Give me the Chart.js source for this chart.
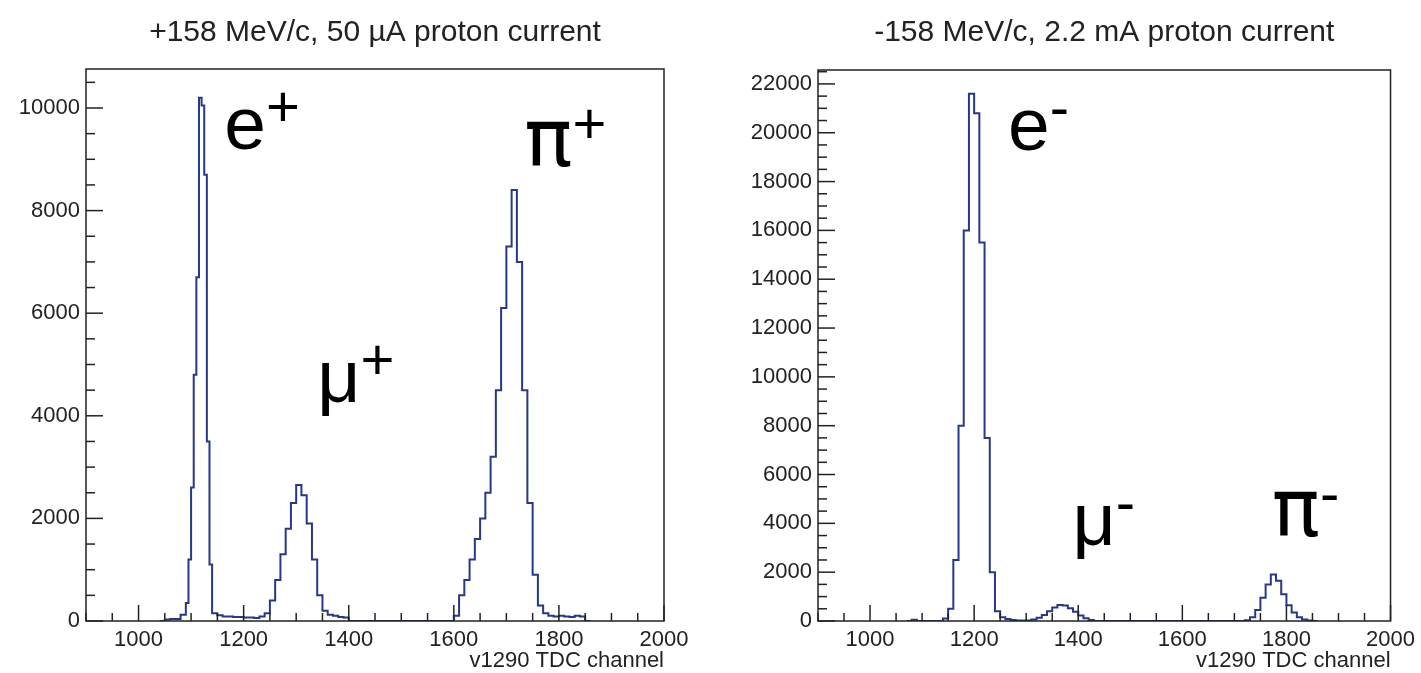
<!DOCTYPE html>
<html>
<head>
<meta charset="utf-8">
<title>v1290 TDC spectra</title>
<script src="https://cdn.jsdelivr.net/npm/chart.js@4.4.1/dist/chart.umd.min.js"></script>
<style>
  body { margin: 0; background: #fff; }
  #wrap { position: relative; width: 1421px; height: 673px; overflow: hidden; }
  #wrap canvas { position: absolute; top: 0; }
</style>
</head>
<body>
<div id="wrap">
  <canvas id="posCanvas" width="710" height="673" style="left:0px"></canvas>
  <canvas id="negCanvas" width="711" height="673" style="left:710px"></canvas>
</div>
<script>
// ---- data (bin start channel -> counts) ----
var posBins = [1040, 1050, 1060, 1070, 1080, 1090, 1095, 1100, 1105, 1110, 1115, 1120, 1125, 1130, 1135,
  1140, 1150, 1160, 1170, 1180, 1190, 1200, 1210, 1220, 1230, 1240, 1250, 1260, 1270, 1280, 1290,
  1300, 1310, 1320, 1330, 1340, 1350, 1360, 1370, 1380, 1390, 1400,
  1600, 1610, 1620, 1630, 1640, 1650, 1660, 1670, 1680, 1690, 1700, 1710, 1720, 1730, 1740, 1750,
  1760, 1770, 1780, 1790, 1800, 1810, 1820, 1830, 1840, 1850];
var posCounts = [0, 30, 40, 40, 120, 350, 1200, 2600, 4800, 6700, 10200, 10050, 8700, 3500, 1100,
  150, 110, 90, 90, 80, 80, 70, 70, 60, 90, 150, 400, 800, 1300, 1800, 2300,
  2650, 2450, 1900, 1200, 500, 200, 120, 100, 80, 70, 0,
  100, 500, 800, 1200, 1600, 2000, 2500, 3200, 4500, 6100, 7300, 8400, 7000, 4500, 2300, 900,
  300, 150, 100, 90, 100, 90, 80, 100, 90, 0];

var negBins = [1070, 1080, 1090, 1140, 1150, 1160, 1170, 1180, 1190, 1200, 1210, 1220, 1230, 1240,
  1250, 1260, 1270, 1280, 1290, 1300, 1310, 1320, 1330, 1340, 1350, 1360, 1370, 1380, 1390, 1400,
  1410, 1420, 1430, 1720, 1730, 1740, 1750, 1760, 1770, 1780, 1790, 1800, 1810, 1820, 1830, 1840, 1850];
var negCounts = [0, 50, 0, 100, 500, 2500, 8000, 16000, 21600, 20800, 15500, 7500, 2000, 400,
  150, 80, 40, 20, 20, 20, 60, 130, 250, 400, 550, 660, 640, 520, 380, 230,
  110, 40, 0, 30, 150, 450, 950, 1500, 1900, 1650, 1100, 650, 350, 150, 60, 20, 0];

// tick labels
var xTickLabels = [1000, 1200, 1400, 1600, 1800, 2000];
var posYTickLabels = [0, 2000, 4000, 6000, 8000, 10000];
var negYTickLabels = [0, 2000, 4000, 6000, 8000, 10000, 12000, 14000, 16000, 18000, 20000, 22000];

// particle labels (text, superscript, channel, counts)
var posLabels = ['e', '\u03bc', '\u03c0'];
var posSigns = ['+', '+', '+'];
var posLabelCh = [1163, 1340, 1734];
var posLabelCount = [9200, 4270, 8870];

var negLabels = ['e', '\u03bc', '\u03c0'];
var negSigns = ['-', '-', '-'];
var negLabelCh = [1265, 1389, 1772];
var negLabelCount = [19300, 3110, 3480];

var posTitle = '+158 MeV/c, 50 \u00b5A proton current';
var negTitle = '-158 MeV/c, 2.2 mA proton current';
var xTitle = 'v1290 TDC channel';

var FONT = '"Liberation Sans", Arial, Helvetica, sans-serif';
var PI_FONT = '"DejaVu Sans", "Liberation Sans", sans-serif';
var INK = '#222';

// histogram outline: each bin gives two points (left edge, right edge)
function stepPoints(bins, counts) {
  var pts = [];
  for (var i = 0; i < bins.length; i++) {
    var end = (i + 1 < bins.length) ? bins[i + 1] : bins[i] + 10;
    pts.push({x: bins[i], y: counts[i]});
    pts.push({x: end, y: counts[i]});
  }
  return pts;
}

function rootStyle(p) {
  return {
    id: 'rootStyle',
    afterDraw: function(chart) {
      var ctx = chart.ctx, a = chart.chartArea;
      var xs = chart.scales.x, ys = chart.scales.y;
      ctx.save();
      ctx.strokeStyle = INK;
      ctx.lineWidth = 1.5;
      // inward ticks on x
      for (var v = 900; v <= 2000; v += 50) {
        var px = xs.getPixelForValue(v);
        var len = (v % 200 === 0) ? 16 : 8;
        ctx.beginPath();
        ctx.moveTo(px, a.bottom);
        ctx.lineTo(px, a.bottom - len);
        ctx.stroke();
      }
      // inward ticks on y
      for (v = 0; v <= ys.max; v += 500) {
        var py = ys.getPixelForValue(v);
        var ylen = (v % 2000 === 0) ? 17 : 9;
        ctx.beginPath();
        ctx.moveTo(a.left, py);
        ctx.lineTo(a.left + ylen, py);
        ctx.stroke();
      }
      ctx.strokeRect(a.left, a.top, a.right - a.left, a.bottom - a.top);

      // titles
      ctx.fillStyle = INK;
      ctx.font = '30px ' + FONT;
      ctx.textAlign = 'center';
      ctx.textBaseline = 'middle';
      ctx.fillText(p.title, (a.left + a.right) / 2, 33);
      ctx.font = '22px ' + FONT;
      ctx.textAlign = 'right';
      ctx.fillText(xTitle, a.right, 661);

      // particle labels
      ctx.fillStyle = '#000';
      for (var i = 0; i < p.labels.length; i++) {
        var lx = xs.getPixelForValue(p.labelCh[i]);
        var ly = ys.getPixelForValue(p.labelCount[i]);
        var isPi = p.labels[i] === '\u03c0';
        ctx.font = (isPi ? '80px ' + PI_FONT : '75px ' + FONT);
        ctx.textAlign = 'left';
        ctx.textBaseline = 'alphabetic';
        ctx.fillText(p.labels[i], lx, ly);
        var w = ctx.measureText(p.labels[i]).width;
        ctx.font = '58px ' + FONT;
        ctx.textBaseline = 'middle';
        ctx.fillText(p.signs[i], lx + w, ly - 39);
      }
      ctx.restore();
    }
  };
}

function makePanel(canvasId, p) {
  return new Chart(document.getElementById(canvasId), {
    type: 'line',
    data: {
      datasets: [{
        data: stepPoints(p.bins, p.counts),
        borderColor: '#27378a',
        borderWidth: 2,
        pointRadius: 0,
        tension: 0,
        fill: false
      }]
    },
    options: {
      responsive: false,
      animation: false,
      layout: { padding: p.padding },
      plugins: { legend: { display: false }, tooltip: { enabled: false }, title: { display: false } },
      scales: {
        x: {
          type: 'linear',
          min: 900,
          max: 2000,
          grid: { display: false, drawTicks: false },
          border: { display: false },
          afterBuildTicks: function(axis) {
            axis.ticks = xTickLabels.map(function(v) { return {value: v}; });
          },
          afterFit: function(axis) { axis.height = 40; },
          ticks: {
            autoSkip: false,
            maxRotation: 0,
            padding: 6,
            color: INK,
            font: { family: FONT, size: 22 },
            callback: function(v) { return String(v); }
          }
        },
        y: {
          type: 'linear',
          min: 0,
          max: p.ymax,
          grid: { display: false, drawTicks: false },
          border: { display: false },
          afterBuildTicks: function(axis) {
            axis.ticks = p.yTicks.map(function(v) { return {value: v}; });
          },
          afterFit: function(axis) { axis.width = 80; },
          ticks: {
            autoSkip: false,
            padding: 6,
            color: INK,
            font: { family: FONT, size: 22 },
            callback: function(v) { return String(v); }
          }
        }
      }
    },
    plugins: [rootStyle(p)]
  });
}

makePanel('posCanvas', {
  bins: posBins, counts: posCounts, ymax: 10760, yTicks: posYTickLabels,
  title: posTitle, labels: posLabels, signs: posSigns, labelCh: posLabelCh, labelCount: posLabelCount,
  padding: { left: 6, right: 46, top: 69, bottom: 12 }
});
makePanel('negCanvas', {
  bins: negBins, counts: negCounts, ymax: 22570, yTicks: negYTickLabels,
  title: negTitle, labels: negLabels, signs: negSigns, labelCh: negLabelCh, labelCount: negLabelCount,
  padding: { left: 28, right: 25, top: 70, bottom: 12 }
});
</script>
</body>
</html>
